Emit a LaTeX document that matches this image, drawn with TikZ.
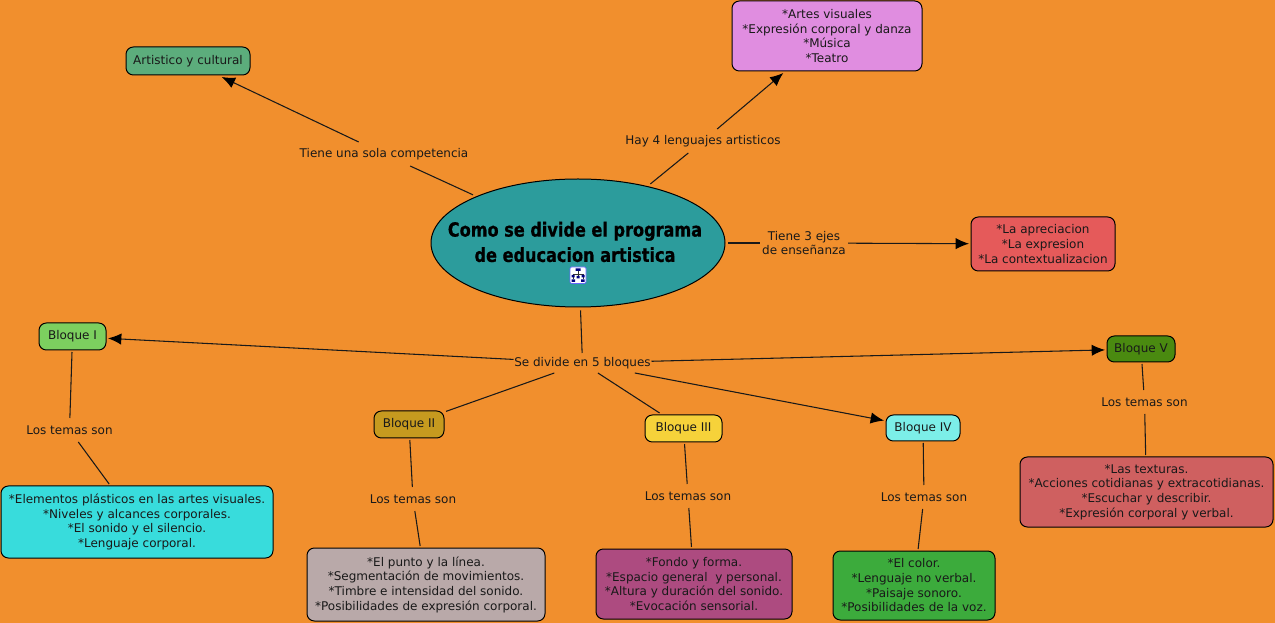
\documentclass[tikz,border=0pt]{standalone}
\usepackage{fontspec}
\setmainfont{DejaVu Sans}
\newfontfamily\titlefont[FakeStretch=0.92,FakeBold=0.6]{DejaVu Sans Condensed}
\usetikzlibrary{arrows.meta,shapes.geometric}
\definecolor{bgc}{RGB}{241,143,45}
\definecolor{tealc}{RGB}{44,156,156}
\definecolor{c1}{RGB}{92,173,124}
\definecolor{c2}{RGB}{224,141,224}
\definecolor{c3}{RGB}{229,90,90}
\definecolor{c4}{RGB}{124,207,95}
\definecolor{c5}{RGB}{74,138,16}
\definecolor{c6}{RGB}{198,154,31}
\definecolor{c7}{RGB}{246,210,58}
\definecolor{c8}{RGB}{124,238,232}
\definecolor{c9}{RGB}{56,220,220}
\definecolor{c10}{RGB}{185,169,169}
\definecolor{c11}{RGB}{173,75,128}
\definecolor{c12}{RGB}{60,171,60}
\definecolor{c13}{RGB}{207,96,96}
\tikzset{
 x=0.75pt,y=-0.75pt,
 txt/.style={font=\fontsize{9pt}{11pt}\selectfont,align=center,text=black!90},
 box/.style={txt,draw=black,line width=0.75pt,rounded corners=5.5pt,inner sep=0pt,outer sep=1.5pt,anchor=center},
 lab/.style={txt,inner sep=0pt,outer sep=0pt,fill=none},
 conn/.style={draw=black!90,line width=0.8pt},
 arr/.style={conn,-{Latex[length=10pt,width=8.5pt,black]}},
}
\newcommand{\bx}[8]{\node[box,fill=#1,minimum width=#2*0.75pt,minimum height=#3*0.75pt] (#4) at (#5,#6) {#7};}
\begin{document}
\begin{tikzpicture}
\useasboundingbox[fill=bgc] (0,0) rectangle (1275,623);
\node[ellipse,draw=black,fill=tealc,line width=0.75pt,minimum width=294*0.75pt,minimum height=128*0.75pt,inner sep=0pt,outer sep=2.5pt] (main) at (578,243) {};
\node[inner sep=0pt,align=center,font=\titlefont\bfseries\fontsize{14.6pt}{19pt}\selectfont,text=black] (title) at (575,242) {Como se divide el programa\\de educacion artistica};
\bx{c1}{124}{28}{art}{188}{61}{Artistico y cultural}{}
\bx{c2}{190}{70}{len}{827}{36}{*Artes visuales\\*Expresión corporal y danza\\*Música\\*Teatro}{}
\bx{c3}{144}{54}{ejes}{1043}{244}{*La apreciacion\\*La expresion\\*La contextualizacion}{}
\bx{c4}{67}{27}{b1}{72.5}{336.5}{Bloque I}{}
\bx{c5}{68}{26}{b5}{1141}{349}{Bloque V}{}
\bx{c6}{70}{27}{b2}{409}{424.5}{Bloque II}{}
\bx{c7}{77}{27}{b3}{683.5}{428.5}{Bloque III}{}
\bx{c8}{74}{26}{b4}{923}{428}{Bloque IV}{}
\bx{c9}{272}{72}{t1}{137}{522}{*Elementos plásticos en las artes visuales.\\*Niveles y alcances corporales.\\*El sonido y el silencio.\\*Lenguaje corporal.}{}
\bx{c10}{238}{73}{t2}{426}{584.5}{*El punto y la línea.\\*Segmentación de movimientos.\\*Timbre e intensidad del sonido.\\*Posibilidades de expresión corporal.}{}
\bx{c11}{196}{70}{t3}{694}{584}{*Fondo y forma.\\*Espacio general\ \ y personal.\\*Altura y duración del sonido.\\*Evocación sensorial.}{}
\bx{c12}{162}{69}{t4}{914}{585.5}{*El color.\\*Lenguaje no verbal.\\*Paisaje sonoro.\\*Posibilidades de la voz.}{}
\bx{c13}{253}{70}{t5}{1146.5}{492}{*Las texturas.\\*Acciones cotidianas y extracotidianas.\\*Escuchar y describir.\\*Expresión corporal y verbal.}{}
\node[lab,minimum width=178*0.75pt,minimum height=24*0.75pt] (l1) at (384,154) {Tiene una sola competencia};
\node[lab,minimum width=166*0.75pt,minimum height=24*0.75pt] (l2) at (703,141) {Hay 4 lenguajes artisticos};
\node[lab,minimum width=88*0.75pt,minimum height=36*0.75pt] (l3) at (804,243) {Tiene 3 ejes\\de enseñanza};
\node[lab,minimum width=138*0.75pt,minimum height=20*0.75pt] (l4) at (582.5,363) {Se divide en 5 bloques};
\node[lab,minimum width=96*0.75pt,minimum height=24*0.75pt] (m1) at (69.5,430) {Los temas son};
\node[lab,minimum width=96*0.75pt,minimum height=24*0.75pt] (m2) at (413,499) {Los temas son};
\node[lab,minimum width=96*0.75pt,minimum height=24*0.75pt] (m3) at (688,496) {Los temas son};
\node[lab,minimum width=96*0.75pt,minimum height=24*0.75pt] (m4) at (924,497) {Los temas son};
\node[lab,minimum width=96*0.75pt,minimum height=24*0.75pt] (m5) at (1144.5,402) {Los temas son};
\draw[conn] (main) -- (l1);
\draw[arr] (l1) -- (art);
\draw[conn] (main) -- (l2);
\draw[arr] (l2) -- (len);
\draw[conn] (main) -- (l3);
\draw[arr] (l3) -- (ejes);
\draw[conn] (main) -- (l4);
\draw[arr] (l4) -- (b1);
\draw[arr] (l4) -- (b5);
\draw[conn] (l4) -- (b2);
\draw[conn] (l4) -- (b3);
\draw[arr] (l4) -- (b4);
\draw[conn] (b1) -- (m1);
\draw[conn] (m1) -- (t1);
\draw[conn] (b2) -- (m2);
\draw[conn] (m2) -- (t2);
\draw[conn] (b3) -- (m3);
\draw[conn] (m3) -- (t3);
\draw[conn] (b4) -- (m4);
\draw[conn] (m4) -- (t4);
\draw[conn] (b5) -- (m5);
\draw[conn] (m5) -- (t5);
% concept map icon
\fill[white,rounded corners=1pt] (570,267) rectangle (586,283.5);
\draw[blue!60!white,line width=0.5pt,rounded corners=1pt] (570,267) rectangle (586,283.5);
\draw[black!80,line width=0.5pt] (578,270) -- (578,277) (573,274) -- (583,274) (573,274) -- (573,279) (583,274) -- (583,279);
\fill[blue!50!black] (575.5,268.5) rectangle (580.5,271) (571.5,275) rectangle (574.5,277.5) (581.5,275) rectangle (584.5,277.5) (571.5,279.5) rectangle (575,282) (581,279.5) rectangle (584.5,282) (576.5,276) rectangle (579.5,278.5);
\end{tikzpicture}
\end{document}
